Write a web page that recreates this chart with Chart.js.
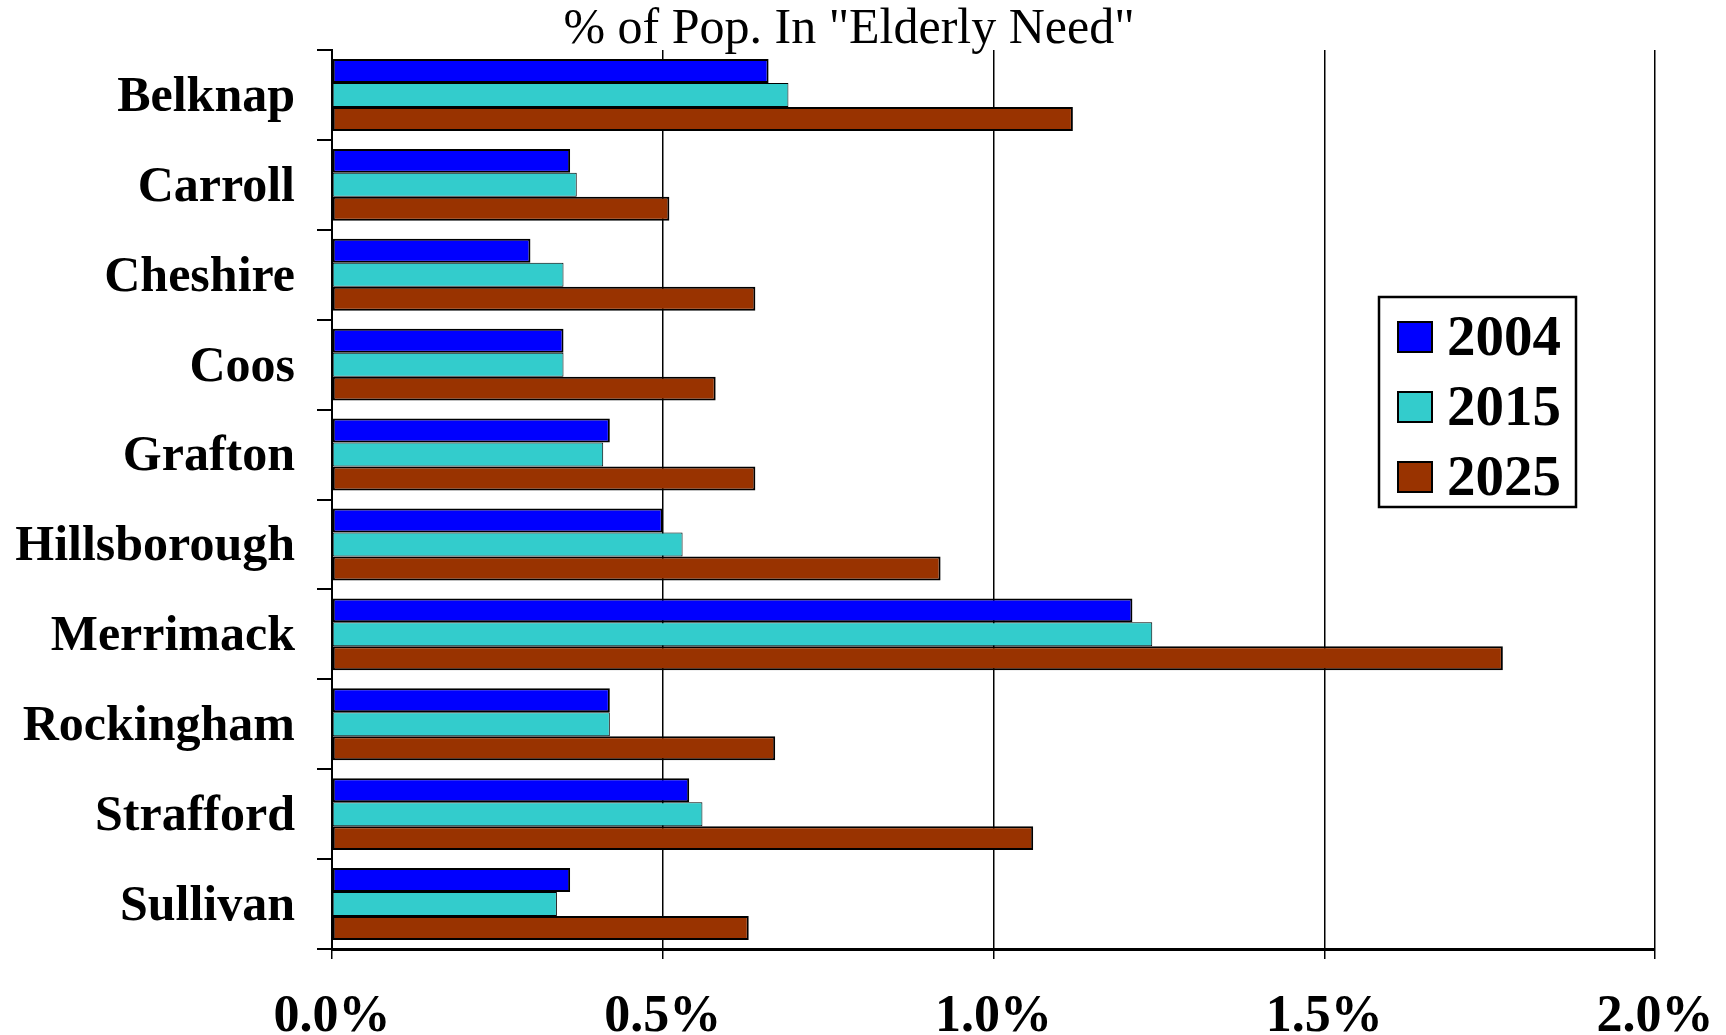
<!DOCTYPE html>
<html>
<head>
<meta charset="utf-8">
<title>% of Pop. In "Elderly Need"</title>
<script src="https://cdn.jsdelivr.net/npm/chart.js@4.4.1/dist/chart.umd.min.js"></script>
<style>
    html, body { margin: 0; padding: 0; background: #ffffff; }
    #wrap { width: 1726px; height: 1035px; }
</style>
</head>
<body>
<div id="wrap"><canvas id="chartCondados" width="1726" height="1035"></canvas></div>
<script>
// dados (percentual da população)
const condados = ['Belknap', 'Carroll', 'Cheshire', 'Coos', 'Grafton', 'Hillsborough', 'Merrimack', 'Rockingham', 'Strafford', 'Sullivan'];
const anos = ['2004', '2015', '2025'];
const valores2004 = [0.66, 0.36, 0.30, 0.35, 0.42, 0.50, 1.21, 0.42, 0.54, 0.36];
const valores2015 = [0.69, 0.37, 0.35, 0.35, 0.41, 0.53, 1.24, 0.42, 0.56, 0.34];
const valores2025 = [1.12, 0.51, 0.64, 0.58, 0.64, 0.92, 1.77, 0.67, 1.06, 0.63];
const xTicks = [0, 0.5, 1.0, 1.5, 2.0];
const titulo = '% of Pop. In "Elderly Need"';

const fonte = "'Liberation Serif', 'Times New Roman', serif";

// título posicionado como no original (não centrado na área do gráfico)
const tituloTopo = {
    id: 'tituloTopo',
    afterDraw(chart) {
        const ctx = chart.ctx;
        ctx.save();
        ctx.font = '50px ' + fonte;
        ctx.fillStyle = '#000000';
        ctx.textAlign = 'center';
        ctx.textBaseline = 'alphabetic';
        ctx.fillText(titulo, 849, 43);
        ctx.restore();
    }
};

// legenda desenhada dentro da área do gráfico
const legendaCaixa = {
    id: 'legendaCaixa',
    afterDraw(chart) {
        const ctx = chart.ctx;
        const x0 = 1379, y0 = 297, w = 197, h = 210;
        ctx.save();
        ctx.fillStyle = '#ffffff';
        ctx.fillRect(x0, y0, w, h);
        ctx.lineWidth = 2.5;
        ctx.strokeStyle = '#000000';
        ctx.strokeRect(x0, y0, w, h);
        ctx.font = 'bold 57px ' + fonte;
        ctx.textBaseline = 'middle';
        ctx.textAlign = 'left';
        chart.data.datasets.forEach((ds, i) => {
            const cy = 337 + i * 70;
            ctx.fillStyle = ds.backgroundColor;
            ctx.fillRect(1398, cy - 15, 34, 30);
            ctx.lineWidth = 2;
            ctx.strokeRect(1398, cy - 15, 34, 30);
            ctx.fillStyle = '#000000';
            ctx.fillText(ds.label, 1447, cy + 3);
        });
        ctx.restore();
    }
};

document.addEventListener('DOMContentLoaded', () => {
    const ctx = document.getElementById('chartCondados').getContext('2d');

    new Chart(ctx, {
        type: 'bar',
        data: {
            labels: condados,
            datasets: [
                { label: anos[0], data: valores2004, backgroundColor: '#0000ff', borderColor: '#000000', borderWidth: 2, borderSkipped: false },
                { label: anos[1], data: valores2015, backgroundColor: '#33cccc', borderColor: '#000000', borderWidth: 1, borderSkipped: false },
                { label: anos[2], data: valores2025, backgroundColor: '#993300', borderColor: '#000000', borderWidth: 2, borderSkipped: false }
            ]
        },
        options: {
            indexAxis: 'y',
            responsive: false,
            animation: false,
            categoryPercentage: 0.8,
            barPercentage: 1.0,
            layout: { padding: { left: 0, right: 0, top: 50, bottom: 0 } },
            plugins: {
                legend: { display: false },
                tooltip: { enabled: false },
                title: { display: false }
            },
            scales: {
                x: {
                    min: 0,
                    max: 2,
                    afterBuildTicks: (scale) => { scale.ticks = xTicks.map(v => ({ value: v })); },
                    afterFit: (scale) => {
                        scale.height = 86;
                        scale.paddingLeft = 0;
                        scale.paddingRight = 71;
                    },
                    grid: { color: '#000000', lineWidth: 1.5, tickLength: 10, drawTicks: true },
                    border: { display: true, color: '#000000', width: 3 },
                    ticks: {
                        color: '#000000',
                        padding: 27,
                        font: { family: fonte, size: 52, weight: 'bold' },
                        callback: (v) => Number(v).toFixed(1) + '%'
                    }
                },
                y: {
                    afterFit: (scale) => {
                        scale.width = 332;
                        scale.paddingTop = 0;
                        scale.paddingBottom = 0;
                    },
                    grid: { offset: true, drawOnChartArea: false, color: '#000000', lineWidth: 2, tickLength: 15 },
                    border: { display: true, color: '#000000', width: 2 },
                    ticks: {
                        color: '#000000',
                        padding: 22,
                        labelOffset: 3,
                        font: { family: fonte, size: 50, weight: 'bold' }
                    }
                }
            }
        },
        plugins: [tituloTopo, legendaCaixa]
    });
});
</script>
</body>
</html>
